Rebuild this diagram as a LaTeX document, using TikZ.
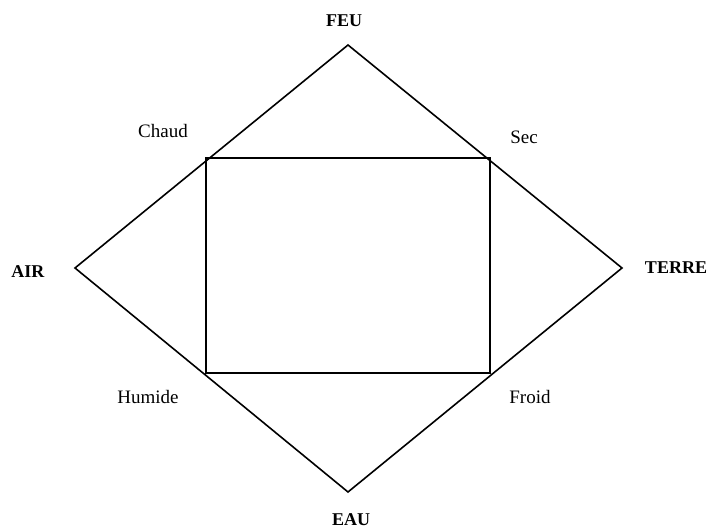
\documentclass[tikz,border=0pt]{standalone}
\usepackage{fontspec}
\setmainfont{Liberation Serif}
\usetikzlibrary{positioning}

\begin{document}
\begin{tikzpicture}[x=1pt,y=-1pt]
    \tikzset{
        frame/.style={line width=1.6pt, line join=miter},
        element/.style={font=\fontsize{18}{20}\selectfont\bfseries, inner sep=0pt},
        quality/.style={font=\fontsize{19}{22}\selectfont, inner sep=0pt}
    }
    \useasboundingbox (0,0) rectangle (710,529);
    % Corners of the diamond
    \coordinate (top) at (348,45);
    \coordinate (right) at (622,268);
    \coordinate (bottom) at (348,492);
    \coordinate (left) at (75,268);
    % Diamond
    \draw[frame] (top) -- (right) -- (bottom) -- (left) -- cycle;
    % Inner rectangle
    \coordinate (nw) at (206,158);
    \coordinate (se) at (490,373);
    \draw[frame] (nw) rectangle (se);
    % Elements
    \node[element] (feu) at (344,21) {FEU};
    \node[element] (air) at (28,272) {AIR};
    \node[element] (terre) at (676,268) {TERRE};
    \node[element] (eau) at (351,520) {EAU};
    % Qualities
    \node[quality] (chaud) at (163,131) {Chaud};
    \node[quality] (sec) at (524,137) {Sec};
    \node[quality] (humide) at (148,397) {Humide};
    \node[quality] (froid) at (530,397) {Froid};
\end{tikzpicture}
\end{document}
